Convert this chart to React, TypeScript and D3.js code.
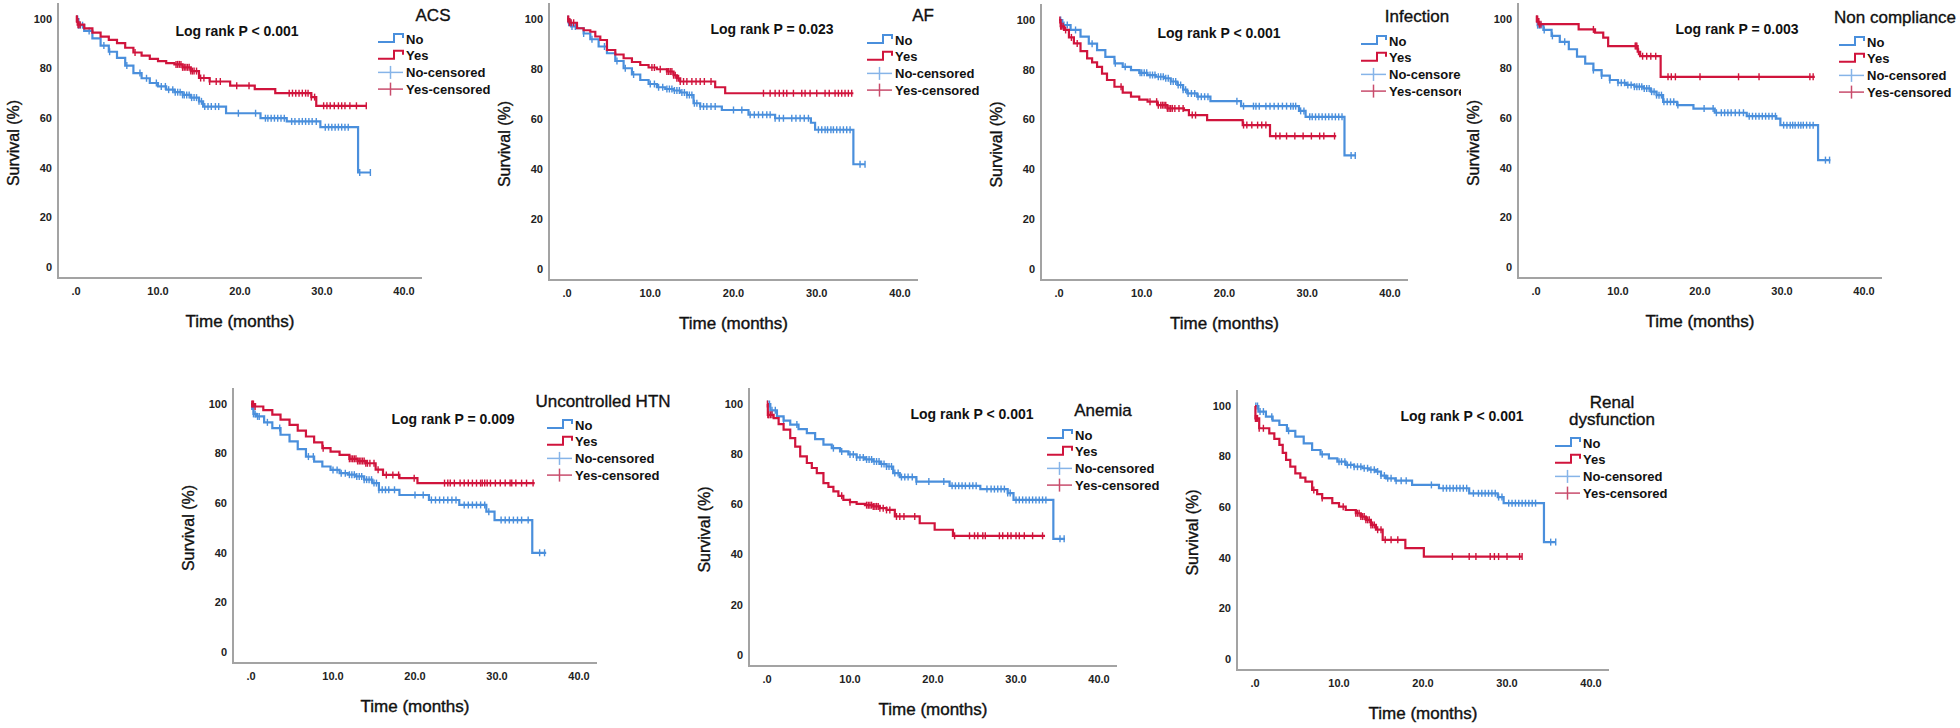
import { useEffect, useRef } from 'react';
import * as d3 from 'd3';

type Pt = [number, number];

const timeTicks = [0, 10, 20, 30, 40];
const timeTickLabels = ['.0', '10.0', '20.0', '30.0', '40.0'];
const survTicks = [0, 20, 40, 60, 80, 100];
const legendLabels = ['No', 'Yes', 'No-censored', 'Yes-censored'];

const panelTitles = [['ACS'], ['AF'], ['Infection'], ['Non compliance'], ['Uncontrolled HTN'], ['Anemia'], ['Renal', 'dysfunction']];
const logRankLabels = ['Log rank P < 0.001', 'Log rank P = 0.023', 'Log rank P < 0.001', 'Log rank P = 0.003', 'Log rank P = 0.009', 'Log rank P < 0.001', 'Log rank P < 0.001'];

// ACS
const acsNo: Pt[] = [[0, 100], [0.3, 97.5], [1, 95.2], [2, 92.2], [3, 89.3], [4, 86.8], [5, 84.3], [6, 81.2], [7, 78.2], [8, 76.1], [9, 74.2], [10, 72.8], [11, 71.5], [12, 70.5], [13, 69.4], [14, 68.3], [15, 66.8], [15.5, 64.7], [18.3, 62], [22.5, 60], [25.7, 58.7], [29.8, 56.4], [34.4, 38.1], [35.9, 38.1]];
const acsYes: Pt[] = [[0, 100], [0.2, 97.7], [1, 96.2], [2, 94.5], [3, 92.9], [4, 91.6], [5, 90.3], [6, 88.4], [7, 86.5], [8, 85.2], [9, 83.9], [10, 83], [11, 82.2], [12, 81.7], [13, 80.5], [14, 79], [15, 76.2], [16.3, 74.8], [18.8, 73.1], [21.8, 71.7], [24.3, 70.1], [28.7, 68.5], [29.3, 65], [35.4, 65]];
const acsNoCens = [0.1, 0.2, 0.3, 0.5, 0.8, 1.6, 3.4, 4.1, 6.2, 7.8, 8.6, 9.8, 10.4, 10.9, 11.3, 11.8, 12.1, 12.4, 12.7, 13, 13.2, 13.5, 13.8, 14.1, 14.4, 14.7, 15, 15.3, 15.7, 16.1, 16.5, 17, 17.4, 19.8, 21.9, 23.1, 23.4, 23.8, 24.2, 24.6, 25, 25.4, 26.3, 26.7, 27.2, 27.6, 28, 28.4, 28.8, 29.3, 30.4, 30.8, 31.2, 31.6, 32, 32.4, 32.8, 33.2, 34.6, 35.9];
const acsYesCens = [0.05, 0.1, 0.15, 0.25, 0.35, 0.5, 7.2, 12.2, 12.4, 12.6, 12.8, 13, 13.2, 13.4, 13.6, 13.8, 14, 14.2, 14.4, 14.7, 15.2, 15.6, 16.3, 17.1, 17.6, 19.6, 21.1, 26, 26.4, 26.8, 27.2, 27.6, 28, 28.3, 28.7, 29.1, 30.2, 30.6, 31, 31.5, 32, 32.4, 32.8, 33.4, 34.2, 35.4];

// AF
const afNo: Pt[] = [[0, 100], [0.2, 98.5], [0.5, 97], [1.2, 96.3], [2, 94.2], [2.8, 91.9], [3.8, 89], [4.8, 86.3], [5.8, 83.2], [6.8, 80.3], [7.8, 77.8], [8.8, 75.6], [9.8, 74], [10.8, 72.7], [11.8, 72], [12.8, 71.4], [13.6, 70.6], [14.4, 69.6], [15.2, 66.3], [16, 65], [18.6, 63.6], [21.8, 61.7], [25, 60.3], [29.3, 58.5], [29.8, 55.7], [34.4, 41.9], [35.8, 41.9]];
const afYes: Pt[] = [[0, 100], [0.3, 98.5], [1.2, 96.3], [2, 95.5], [2.8, 94.9], [3.4, 93], [4, 91.6], [4.8, 87.6], [5.8, 85.8], [6.8, 84.3], [7.8, 82.8], [8.8, 81.6], [9.8, 80.6], [10.8, 79.9], [12, 79], [12.8, 77.5], [13.2, 76.3], [13.6, 75], [17.8, 72.7], [19, 70.3], [34.4, 70.3]];
const afNoCens = [0.1, 0.2, 0.4, 0.6, 1, 2, 3, 4.5, 6, 7, 8, 10, 10.5, 11, 11.5, 12, 12.3, 12.6, 12.9, 13.2, 13.5, 13.8, 14.1, 14.4, 14.7, 15, 15.3, 15.6, 16, 16.4, 16.8, 17.3, 17.8, 20, 21, 22, 22.5, 23, 23.5, 24, 24.4, 25, 25.5, 26, 27, 27.5, 28, 28.5, 29, 30.2, 30.6, 31, 31.3, 31.7, 32, 32.4, 32.8, 33.2, 33.6, 34, 35.2, 35.8];
const afYesCens = [0.1, 0.2, 0.3, 0.5, 0.8, 10.2, 10.5, 11.2, 12, 12.2, 12.4, 12.6, 12.8, 13, 13.2, 13.4, 13.6, 14, 14.4, 15, 15.5, 16, 16.5, 17.3, 23.6, 24.4, 25, 25.5, 26, 26.4, 27.2, 28.2, 28.6, 29.2, 30, 31, 31.5, 32.2, 32.6, 33, 33.4, 33.8, 34.2];

// Infection
const infNo: Pt[] = [[0, 100], [0.4, 98], [1.4, 96], [2.6, 93.3], [3.6, 90.5], [4.6, 87.9], [5.6, 85.2], [6.7, 82.6], [7.7, 81.2], [8.7, 79.9], [9.7, 78.8], [10.7, 77.9], [11.7, 77.2], [12.7, 76.6], [13.5, 75.3], [14.3, 73.9], [15, 72], [15.5, 70.5], [16.7, 69.2], [18.3, 67.4], [22, 65.4], [29, 63.5], [29.8, 61.1], [34.5, 45.6], [35.9, 45.6]];
const infYes: Pt[] = [[0, 100], [0.2, 97.5], [0.6, 96], [1.2, 93], [1.8, 90.6], [2.6, 87.5], [3.4, 84.6], [4, 83], [4.6, 81.2], [5.2, 78.5], [5.8, 75.9], [6.7, 73.2], [7.7, 70.8], [8.7, 69.2], [9.7, 68], [10.7, 67.2], [11.9, 65.8], [13.1, 64.5], [15.1, 63.8], [15.7, 61.8], [17.9, 59.8], [22.2, 57.8], [25.5, 53.4], [33.5, 53.4]];
const infNoCens = [0.2, 0.4, 0.6, 1, 2, 4, 6.8, 8, 9.8, 10, 10.3, 10.6, 11, 11.3, 11.6, 12, 12.3, 12.6, 12.9, 13.2, 13.5, 13.8, 14.1, 14.4, 14.7, 15, 15.3, 15.6, 16, 16.4, 16.8, 17.2, 17.6, 18, 21.5, 22.3, 23.5, 23.8, 24.2, 25, 25.5, 26, 26.5, 27, 27.5, 28, 28.3, 28.6, 29.2, 29.6, 30.3, 30.6, 31, 31.4, 31.8, 32.2, 32.6, 33, 33.4, 33.8, 34.2, 35.3, 35.8];
const infYesCens = [0.1, 0.2, 0.3, 0.5, 0.8, 1.5, 2.2, 7.5, 11, 11.8, 12, 12.3, 12.5, 12.7, 12.9, 13.1, 13.3, 13.5, 13.7, 14, 14.5, 15, 16.1, 16.5, 22.3, 22.7, 23.3, 24, 24.5, 25, 26.2, 26.7, 27.5, 28.5, 29.5, 30.5, 31.5, 32, 33.3];

// Non compliance
const ncNo: Pt[] = [[0, 100], [0.2, 97.5], [0.9, 95.6], [1.9, 93.2], [2.9, 90.8], [4, 87.8], [5, 84.8], [6, 82], [7, 79.4], [8, 77.2], [9, 75.4], [10, 74.3], [11, 73.4], [12, 72.7], [13.1, 72], [14, 70.7], [14.7, 69.3], [15.5, 66.6], [17.2, 65.3], [19.2, 63.9], [21.8, 62.2], [25.7, 60.8], [29.3, 59.8], [29.8, 57.2], [34.4, 43.1], [35.9, 43.1]];
const ncYes: Pt[] = [[0, 100], [0.3, 97.9], [5.2, 95.8], [7.2, 94.5], [8.2, 92.5], [8.8, 89.1], [12.4, 86.8], [12.7, 85], [15.2, 76.7], [34, 76.7]];
const ncNoCens = [0.1, 0.2, 0.4, 0.6, 1, 2, 3.5, 7, 8, 9, 10, 10.4, 10.8, 11.2, 11.6, 12, 12.3, 12.6, 12.9, 13.2, 13.5, 13.8, 14.1, 14.4, 14.7, 15, 15.3, 15.6, 16, 16.4, 16.8, 17.3, 20.5, 21.6, 22, 22.6, 23, 23.4, 23.8, 24.3, 24.8, 25.3, 26, 26.4, 26.8, 27.2, 27.6, 28, 28.4, 28.8, 29.2, 30.2, 30.6, 31, 31.3, 31.6, 32, 32.3, 32.6, 33, 33.4, 33.8, 35.3, 35.8];
const ncYesCens = [0.05, 0.1, 0.2, 0.4, 0.6, 7, 12.1, 12.2, 12.3, 12.5, 13, 13.5, 14, 14.6, 16.1, 16.5, 17, 20, 24.7, 27.2, 33.4, 33.8];

// Uncontrolled HTN
const htnNo: Pt[] = [[0, 99], [0.3, 96], [0.6, 95], [1.6, 92.6], [2.6, 90.3], [3.6, 87.6], [4.7, 84.9], [5.7, 81.8], [6.7, 78.8], [7.7, 76.8], [8.7, 74.8], [9.7, 73.4], [10.8, 72.1], [11.8, 71.5], [12.8, 70.8], [13.8, 69.5], [14.8, 68.1], [15.6, 65.4], [18.1, 63.3], [21.7, 61.3], [25.4, 59.3], [28.7, 56.6], [29.7, 53.2], [34.3, 40], [36, 40]];
const htnYes: Pt[] = [[0, 100], [0.5, 99], [1.5, 97.5], [2.6, 95.7], [3.6, 93.7], [4.7, 91.6], [5.7, 89.3], [6.7, 86.9], [7.7, 84.5], [8.7, 82.2], [9.7, 80.8], [10.8, 79.5], [12, 77.9], [13, 77], [14, 76.1], [15.2, 73.5], [16.1, 71.4], [18.1, 70.1], [20.3, 68.1], [34.6, 68.1]];
const htnNoCens = [0.1, 0.2, 0.3, 0.5, 0.8, 1, 2, 3.5, 7, 7.6, 10, 10.5, 11, 11.5, 12, 12.3, 12.6, 12.9, 13.2, 13.5, 13.8, 14.1, 14.4, 14.7, 15, 15.3, 15.6, 16, 16.4, 16.8, 17.5, 20, 21, 22, 22.5, 23, 23.5, 24, 24.5, 25, 26, 26.5, 27, 27.5, 28, 28.5, 29, 30.5, 31, 31.5, 32, 32.5, 33, 33.8, 35.2, 35.8];
const htnYesCens = [0.1, 0.2, 0.3, 0.5, 8.8, 12, 12.2, 12.4, 12.6, 12.8, 13, 13.2, 13.4, 13.6, 13.8, 14, 14.2, 14.5, 15, 15.5, 16.5, 17.3, 18, 19.9, 23.6, 24, 24.3, 24.8, 25.5, 26, 26.5, 27, 27.5, 28, 28.2, 28.5, 28.8, 29.2, 29.8, 30.4, 31, 31.6, 31.8, 32.3, 33, 33.6, 34.4];

// Anemia
const anNo: Pt[] = [[0, 100], [0.4, 97.5], [1.2, 95.1], [2, 93.4], [2.8, 91.8], [3.8, 90], [4.8, 88.4], [5.8, 86], [6.8, 83.8], [7.8, 82.4], [8.8, 81.1], [9.8, 79.9], [10.8, 78.7], [11.8, 77.9], [12.8, 77.1], [13.6, 76.1], [14.4, 75.1], [15.2, 72.5], [16, 70.9], [18, 69.1], [22, 67.4], [25.7, 66.1], [29, 64.5], [29.7, 61.8], [34.5, 46.3], [35.9, 46.3]];
const anYes: Pt[] = [[0, 100], [0.1, 95.7], [0.8, 94.4], [1.4, 92], [2, 89.8], [2.8, 86.4], [3.4, 83], [4, 79.1], [4.8, 76.5], [5.4, 74.5], [6, 72.5], [6.8, 68.5], [7.4, 67], [8, 65.2], [8.6, 63.4], [9.2, 61.8], [10, 60.9], [10.8, 60.2], [11.8, 59.7], [12.8, 59.2], [13.6, 58.5], [14.4, 57.8], [15.4, 55.2], [18.4, 52.5], [20.2, 49.9], [22.4, 47.5], [33.5, 47.5]];
const anNoCens = [0.1, 0.3, 0.6, 1, 2, 3.6, 8, 9, 10, 10.4, 10.8, 11.2, 11.6, 12, 12.3, 12.6, 12.9, 13.2, 13.5, 13.8, 14.1, 14.4, 14.7, 15, 15.4, 15.8, 16.2, 16.6, 17, 17.5, 18, 19.5, 21.3, 22.3, 22.7, 23.1, 23.5, 23.9, 24.4, 24.8, 25.2, 26.5, 27, 27.4, 27.8, 28.2, 28.6, 29, 29.3, 30, 30.4, 30.8, 31.2, 31.6, 32, 32.4, 32.8, 33.2, 33.6, 35.3, 35.8];
const anYesCens = [0.05, 0.1, 0.2, 0.4, 0.6, 9, 10, 12, 12.2, 12.4, 12.6, 12.8, 13, 13.2, 13.4, 13.6, 14, 14.4, 14.8, 15.6, 16, 16.5, 17.8, 22.6, 24.4, 25, 25.4, 26, 26.3, 28, 28.4, 29, 29.4, 30, 30.4, 31, 32, 33.2];

// Renal dysfunction
const rdNo: Pt[] = [[0, 100], [0.4, 97.8], [1.3, 95.8], [2.1, 94.2], [2.9, 92.5], [3.8, 90.2], [4.8, 87.9], [5.8, 85.2], [6.8, 82.6], [7.8, 80.9], [8.8, 79.3], [9.8, 78], [10.8, 76.7], [11.8, 76], [12.8, 75.4], [13.6, 74.8], [14.4, 74.1], [15, 72.5], [15.6, 71.4], [16.7, 70.5], [18.7, 68.8], [21.9, 67.5], [25.5, 65.5], [28.9, 64], [29.6, 61.6], [34.4, 46.2], [35.8, 46.2]];
const rdYes: Pt[] = [[0, 100], [0.05, 95.1], [0.5, 91.2], [1.7, 89.2], [2.3, 87], [2.9, 84.6], [3.3, 81.5], [3.7, 78.7], [4.2, 76], [4.8, 73.4], [5.4, 71.7], [6, 70.1], [6.8, 66.8], [7.4, 65.2], [8, 63.6], [9.2, 61.6], [10, 60.2], [10.8, 58.9], [12, 57.6], [12.6, 56.3], [13.2, 55], [13.8, 53], [14.4, 51.1], [15.2, 47.1], [17.9, 43.8], [20.1, 40.5], [31.8, 40.5]];
const rdNoCens = [0.1, 0.3, 0.6, 1, 2, 4, 8, 10, 10.3, 10.7, 11, 11.4, 11.8, 12.2, 12.6, 13, 13.4, 13.8, 14.2, 14.6, 15, 15.4, 15.8, 16.2, 16.8, 17.4, 18, 21, 22.4, 22.8, 23.2, 23.6, 24, 24.4, 24.8, 25.2, 26, 26.6, 27, 27.4, 27.8, 28.2, 28.6, 29, 29.4, 30.2, 30.6, 31, 31.4, 31.8, 32.2, 32.6, 33, 33.4, 35.2, 35.8];
const rdYesCens = [0.05, 0.1, 0.2, 0.3, 0.5, 1, 7, 8, 10.5, 12, 12.2, 12.4, 12.6, 12.8, 13, 13.2, 13.4, 13.6, 13.8, 14, 14.2, 14.6, 15, 15.5, 16.2, 17, 23.5, 25.5, 26.3, 28, 28.5, 29, 30, 31.5, 31.8];

const seriesNo = [acsNo, afNo, infNo, ncNo, htnNo, anNo, rdNo];
const seriesYes = [acsYes, afYes, infYes, ncYes, htnYes, anYes, rdYes];
const censNo = [acsNoCens, afNoCens, infNoCens, ncNoCens, htnNoCens, anNoCens, rdNoCens];
const censYes = [acsYesCens, afYesCens, infYesCens, ncYesCens, htnYesCens, anYesCens, rdYesCens];

// panel placement (pixels)
const layout = [
  { ax: 58, top: 3, w: 328, h: 248, pX: 179, pY: 28, tX: 375, tY: 12, lX: 348, lY: 36 },
  { ax: 549, top: 3, w: 333, h: 250, pX: 223, pY: 26, tX: 374, tY: 12, lX: 346, lY: 37 },
  { ax: 1041, top: 4, w: 331, h: 249, pX: 178, pY: 29, tX: 376, tY: 12, lX: 348, lY: 37, clip: 1461 },
  { ax: 1518, top: 3, w: 328, h: 248, pX: 219, pY: 26, tX: 377, tY: 14, lX: 349, lY: 39 },
  { ax: 233, top: 388, w: 328, h: 248, pX: 220, pY: 31, tX: 370, tY: 13, lX: 342, lY: 37 },
  { ax: 749, top: 388, w: 332, h: 251, pX: 223, pY: 26, tX: 354, tY: 22, lX: 326, lY: 47 },
  { ax: 1237, top: 390, w: 336, h: 253, pX: 225, pY: 26, tX: 375, tY: 12, lX: 346, lY: 53 },
];

const BLUE = '#4a8fdc';
const RED = '#d0143c';
const BLUE_LIGHT = '#86b4e8';
const RED_LIGHT = '#c84c6c';
const FONT = '"Liberation Sans", Arial, sans-serif';

const stepValue = (pts: Pt[], t: number) => {
  let v = pts[0][1];
  for (const p of pts) {
    if (p[0] <= t) v = p[1];
    else break;
  }
  return v;
};

const App = () => {
  const svgRef = useRef<SVGSVGElement>(null);

  useEffect(() => {
    const svg = d3.select(svgRef.current);
    svg.selectAll('*').remove();

    svg.append('rect').attr('width', 1960).attr('height', 728).attr('fill', '#fff');

    layout.forEach((L, i) => {
      const x0 = L.ax + 18;
      const y100 = L.top + 16;
      const xScale = d3.scaleLinear().domain([0, 40]).range([x0, x0 + L.w]);
      const yScale = d3.scaleLinear().domain([0, 100]).range([y100 + L.h, y100]);
      const axisY = y100 + L.h + 11;
      const right = x0 + L.w + 18;

      let g = svg.append('g');
      if (L.clip) {
        const id = `clip${i}`;
        svg.append('defs').append('clipPath').attr('id', id)
          .append('rect').attr('x', 0).attr('y', 0).attr('width', L.clip).attr('height', 728);
        g = g.attr('clip-path', `url(#${id})`);
      }

      // axes
      g.append('line').attr('x1', L.ax).attr('x2', L.ax).attr('y1', L.top).attr('y2', axisY)
        .attr('stroke', '#a3a3a3').attr('stroke-width', 2);
      g.append('line').attr('x1', L.ax - 1).attr('x2', right).attr('y1', axisY).attr('y2', axisY)
        .attr('stroke', '#a3a3a3').attr('stroke-width', 2);

      g.selectAll('.ytick').data(survTicks).enter().append('text')
        .attr('x', L.ax - 6).attr('y', d => yScale(d)).attr('dy', '0.35em')
        .attr('text-anchor', 'end').attr('font-family', FONT).attr('font-weight', 'bold')
        .attr('font-size', 11).attr('fill', '#222').text(d => d);

      g.selectAll('.xtick').data(timeTicks).enter().append('text')
        .attr('x', d => xScale(d)).attr('y', axisY + 13).attr('dy', '0.35em')
        .attr('text-anchor', 'middle').attr('font-family', FONT).attr('font-weight', 'bold')
        .attr('font-size', 11).attr('fill', '#222').text((_, j) => timeTickLabels[j]);

      g.append('text').attr('x', xScale(20)).attr('y', axisY + 43).attr('dy', '0.35em')
        .attr('text-anchor', 'middle').attr('font-family', FONT).attr('font-size', 17)
        .attr('fill', '#111').attr('stroke', '#111').attr('stroke-width', 0.4).text('Time (months)');

      g.append('text').attr('transform', `translate(${L.ax - 45},${yScale(50)}) rotate(-90)`)
        .attr('dy', '0.35em').attr('text-anchor', 'middle').attr('font-family', FONT)
        .attr('font-size', 16).attr('fill', '#111').attr('stroke', '#111').attr('stroke-width', 0.35)
        .text('Survival (%)');

      g.append('text').attr('x', L.ax + L.pX).attr('y', L.top + L.pY).attr('dy', '0.35em')
        .attr('text-anchor', 'middle').attr('font-family', FONT).attr('font-weight', 'bold')
        .attr('font-size', 14).attr('fill', '#111').text(logRankLabels[i]);

      // curves
      const line = d3.line<Pt>().x(d => xScale(d[0])).y(d => yScale(d[1])).curve(d3.curveStepAfter);
      const groups = [
        { pts: seriesNo[i], cens: censNo[i], color: BLUE },
        { pts: seriesYes[i], cens: censYes[i], color: RED },
      ];
      groups.forEach(s => {
        g.append('path').attr('d', line(s.pts)).attr('fill', 'none')
          .attr('stroke', s.color).attr('stroke-width', 2.2);
        g.selectAll(null).data(s.cens).enter().append('line')
          .attr('x1', d => xScale(d)).attr('x2', d => xScale(d))
          .attr('y1', d => yScale(stepValue(s.pts, d)) - 3.5)
          .attr('y2', d => yScale(stepValue(s.pts, d)) + 3.5)
          .attr('stroke', s.color).attr('stroke-width', 1.4);
      });

      // legend
      const tx = L.ax + L.tX;
      panelTitles[i].forEach((t, k) => {
        g.append('text').attr('x', tx).attr('y', L.top + L.tY + k * 17).attr('dy', '0.35em')
          .attr('text-anchor', 'middle').attr('font-family', FONT).attr('font-size', 17)
          .attr('fill', '#111').attr('stroke', '#111').attr('stroke-width', 0.35).text(t);
      });
      const lx = L.ax + L.lX;
      legendLabels.forEach((lab, k) => {
        const yy = L.top + L.lY + k * 16.7;
        const left = lx - 28;
        const rgt = lx - 3;
        if (k < 2) {
          g.append('path')
            .attr('d', `M${left},${yy + 3}H${left + 16}V${yy - 5}H${rgt}V${yy - 1}`)
            .attr('fill', 'none').attr('stroke', k === 0 ? BLUE : RED).attr('stroke-width', 2);
        } else {
          const c = k === 2 ? BLUE_LIGHT : RED_LIGHT;
          g.append('line').attr('x1', left).attr('x2', rgt).attr('y1', yy).attr('y2', yy)
            .attr('stroke', c).attr('stroke-width', 1.5);
          g.append('line').attr('x1', (left + rgt) / 2).attr('x2', (left + rgt) / 2)
            .attr('y1', yy - 6.5).attr('y2', yy + 6.5).attr('stroke', c).attr('stroke-width', 1.5);
        }
        g.append('text').attr('x', lx).attr('y', yy).attr('dy', '0.35em')
          .attr('font-family', FONT).attr('font-weight', 'bold').attr('font-size', 13)
          .attr('fill', '#111').text(lab);
      });
    });
  }, []);

  return (
    <div>
      <svg ref={svgRef} width={1960} height={728}
        style={{ position: 'absolute', left: 0, top: 0, display: 'block' }} />
    </div>
  );
};

export default App;
